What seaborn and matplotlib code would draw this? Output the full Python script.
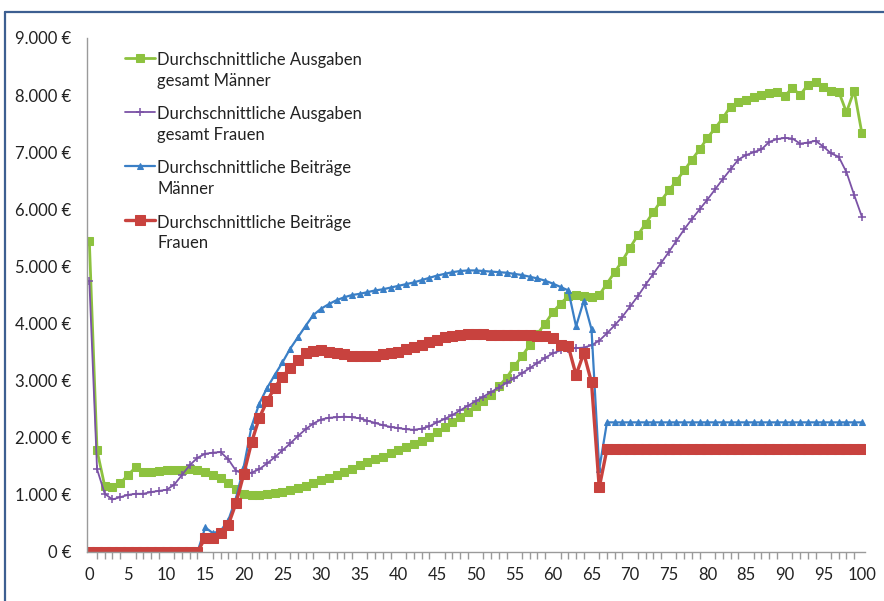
import matplotlib
matplotlib.use("Agg")
import matplotlib.pyplot as plt
import seaborn as sns
import numpy as np
from matplotlib.ticker import FuncFormatter, MultipleLocator
from matplotlib.lines import Line2D

ages = list(range(0, 101))

ausgaben_maenner = [
    5450, 1780, 1150, 1130, 1200, 1350, 1480, 1400, 1400, 1420,
    1430, 1440, 1440, 1450, 1430, 1400, 1350, 1300, 1200, 1100,
    1020, 1000, 1000, 1010, 1030, 1050, 1080, 1120, 1160, 1210,
    1260, 1300, 1350, 1400, 1460, 1520, 1570, 1620, 1670, 1730,
    1790, 1840, 1890, 1950, 2020, 2100, 2180, 2270, 2360, 2460,
    2560, 2650, 2750, 2900, 3050, 3250, 3430, 3620, 3820, 4000,
    4200, 4350, 4480, 4500, 4480, 4470, 4500, 4700, 4900, 5100,
    5330, 5550, 5750, 5950, 6150, 6330, 6500, 6680, 6870, 7050,
    7250, 7420, 7600, 7800, 7880, 7920, 7960, 8000, 8030, 8050,
    7980, 8130, 8000, 8180, 8230, 8150, 8080, 8060, 7700, 8080,
    7330]

ausgaben_frauen = [
    4750, 1450, 1020, 920, 960, 1000, 1020, 1020, 1050, 1070,
    1090, 1180, 1350, 1520, 1650, 1720, 1740, 1750, 1620, 1420,
    1370, 1390, 1450, 1550, 1660, 1780, 1900, 2030, 2150, 2250,
    2320, 2350, 2360, 2370, 2360, 2340, 2300, 2260, 2220, 2190,
    2170, 2150, 2140, 2160, 2200, 2270, 2330, 2400, 2480, 2560,
    2640, 2720, 2800, 2880, 2960, 3040, 3130, 3220, 3310, 3400,
    3480, 3530, 3560, 3570, 3580, 3620, 3700, 3830, 3970, 4120,
    4300, 4480, 4680, 4870, 5060, 5250, 5450, 5650, 5830, 6000,
    6170, 6350, 6530, 6700, 6870, 6950, 7000, 7050, 7180, 7230,
    7250, 7240, 7150, 7170, 7200, 7100, 6980, 6920, 6650, 6250,
    5870]

beitraege_maenner = [
    0, 0, 0, 0, 0, 0, 0, 0, 0, 0,
    0, 0, 0, 0, 0, 430, 330, 370, 560, 950,
    1500, 2200, 2600, 2870, 3100, 3320, 3560, 3760, 3960, 4150,
    4260, 4340, 4410, 4460, 4500, 4520, 4550, 4580, 4600, 4630,
    4660, 4690, 4720, 4760, 4800, 4840, 4870, 4900, 4920, 4930,
    4930, 4920, 4910, 4900, 4890, 4870, 4850, 4820, 4790, 4750,
    4700, 4640, 4580, 3950, 4400, 3900, 1450, 2270, 2270, 2270,
    2270, 2270, 2270, 2270, 2270, 2270, 2270, 2270, 2270, 2270,
    2270, 2270, 2270, 2270, 2270, 2270, 2270, 2270, 2270, 2270,
    2270, 2270, 2270, 2270, 2270, 2270, 2270, 2270, 2270, 2270,
    2270]

beitraege_frauen = [
    0, 0, 0, 0, 0, 0, 0, 0, 0, 0,
    0, 0, 0, 0, 0, 250, 250, 330, 480, 860,
    1370, 1920, 2350, 2640, 2880, 3070, 3220, 3360, 3480, 3520,
    3530, 3510, 3490, 3460, 3440, 3430, 3430, 3440, 3460, 3480,
    3510, 3550, 3590, 3630, 3680, 3720, 3760, 3790, 3800, 3810,
    3810, 3810, 3800, 3800, 3800, 3800, 3800, 3800, 3790, 3780,
    3750, 3620, 3600, 3100, 3480, 2970, 1130, 1800, 1800, 1800,
    1800, 1800, 1800, 1800, 1800, 1800, 1800, 1800, 1800, 1800,
    1800, 1800, 1800, 1800, 1800, 1800, 1800, 1800, 1800, 1800,
    1800, 1800, 1800, 1800, 1800, 1800, 1800, 1800, 1800, 1800,
    1800]

labels = [
    "Durchschnittliche Ausgaben\ngesamt Männer",
    "Durchschnittliche Ausgaben\ngesamt Frauen",
    "Durchschnittliche Beiträge\nMänner",
    "Durchschnittliche Beiträge\nFrauen",
]
y_ticks = [0, 1000, 2000, 3000, 4000, 5000, 6000, 7000, 8000, 9000]
x_ticks = [0, 5, 10, 15, 20, 25, 30, 35, 40, 45, 50, 55, 60, 65, 70, 75, 80, 85, 90, 95, 100]

sns.set_theme(style="white")
plt.rcParams['font.family'] = ['Lato', 'DejaVu Sans']

fig = plt.figure(figsize=(8.84, 6.01), dpi=100)
ax = fig.add_axes([87/884, 1 - 552/601, (865-87)/884, (552-38)/601])

colors = ["#8dc23f", "#7b52a6", "#3a7fc6", "#c8423e"]
styles = [
    dict(marker="s", markersize=5.5, linewidth=2.0),
    dict(marker="+", markersize=6, linewidth=1.3, mew=1.1),
    dict(marker="^", markersize=5, linewidth=1.6),
    dict(marker="s", markersize=7, linewidth=2.4),
]
series = [ausgaben_maenner, ausgaben_frauen, beitraege_maenner, beitraege_frauen]

for vals, lab, st, c in zip(series, labels, styles, colors):
    sns.lineplot(x=ages, y=vals, ax=ax, label=lab, color=c, mec=c, mfc=c, **st)

ax.set_xlim(-0.3, 100.4)
ax.set_ylim(0, 9000)
ax.set_yticks(y_ticks)
ax.set_xticks(x_ticks)
ax.xaxis.set_minor_locator(MultipleLocator(1))
ax.yaxis.set_major_formatter(FuncFormatter(lambda v, p: f"{int(v):,} €".replace(",", ".")))
ax.set_xlabel("")
ax.set_ylabel("")

for s in ["top", "right"]:
    ax.spines[s].set_visible(False)
for s in ["left", "bottom"]:
    ax.spines[s].set_color("#9a9a9a")
    ax.spines[s].set_linewidth(1.0)

ax.tick_params(axis="both", which="both", direction="out", color="#9a9a9a",
               labelsize=12, labelcolor="#222222")
ax.tick_params(axis="y", which="major", length=5, width=1, pad=6)
ax.tick_params(axis="x", which="major", length=5, width=1, pad=6)
ax.tick_params(axis="x", which="minor", length=5, width=1, bottom=True)

leg = ax.legend(loc="upper left", bbox_to_anchor=(0.04, 0.985), frameon=False,
                fontsize=12, labelspacing=1.05, handlelength=1.8, handletextpad=0.15,
                borderaxespad=0)
for t in leg.get_texts():
    t.set_color("#222222")
    t.set_linespacing(1.35)
# align legend handles with the first text line (as in the original)
for col in leg._legend_handle_box.get_children():
    for hp in col.get_children():
        hp.align = "top"

# outer chart frame
fig.add_artist(Line2D([5/884, 5/884], [0, 1 - 12/601], transform=fig.transFigure,
                      color="#3d5f91", linewidth=1.6))
fig.add_artist(Line2D([5/884, 1], [1 - 12/601, 1 - 12/601], transform=fig.transFigure,
                      color="#3d5f91", linewidth=1.6))

fig.savefig("out.png", dpi=100)
